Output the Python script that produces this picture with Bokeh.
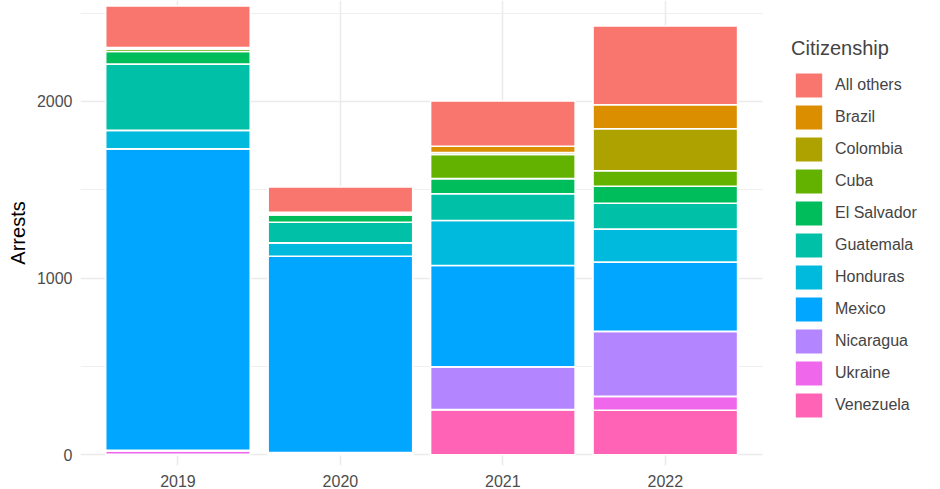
from bokeh.plotting import figure
from bokeh.models import (
    ColumnDataSource, Range1d, FixedTicker, Legend, LegendItem, BoxAnnotation,
)
from bokeh.embed import file_html
from bokeh.resources import INLINE

FONT = "Liberation Sans"

# Data (arrests by citizenship and year)
years = [2019, 2020, 2021, 2022]
countries = ["All others", "Brazil", "Colombia", "Cuba", "El Salvador",
             "Guatemala", "Honduras", "Mexico", "Nicaragua", "Ukraine",
             "Venezuela"]
all_others = [235, 143, 256, 446]
brazil = [5, 4, 35, 136]
colombia = [4, 4, 11, 238]
cuba = [14, 7, 137, 87]
el_salvador = [71, 41, 86, 97]
guatemala = [375, 117, 151, 146]
honduras = [105, 76, 255, 187]
mexico = [1706, 1110, 574, 392]
nicaragua = [3, 4, 242, 368]
ukraine = [20, 6, 0, 78]
venezuela = [2, 3, 255, 252]

# ggplot default hue palette, 11 levels
colors = ["#F8766D", "#DB8E00", "#AEA200", "#64B200", "#00BD5C", "#00C1A7",
          "#00BADE", "#00A6FF", "#B385FF", "#EF67EB", "#FF63B6"]

values = [all_others, brazil, colombia, cuba, el_salvador, guatemala,
          honduras, mexico, nicaragua, ukraine, venezuela]
data = {"year": years}
for name, vals in zip(countries, values):
    data[name] = vals
source = ColumnDataSource(data=data)

# frame spans the whole width; the legend sits in its right part
p = figure(
    x_range=Range1d(2018.4, 2023.694),
    y_range=Range1d(-61, 2571),
    width=940, height=489,
    min_border_left=80, min_border_right=0,
    min_border_top=0, min_border_bottom=24,
    output_backend="svg", toolbar_location=None,
)
p.outline_line_color = None

# stack bottom-up: last level at the bottom, like ggplot
stack_names = list(reversed(countries))
stack_colors = list(reversed(colors))
renderers = p.vbar_stack(
    stack_names, x="year", width=0.89, source=source,
    fill_color=stack_colors, line_color="white", line_width=1.6,
)

# hide the grid behind the legend area (panel ends at 2022.6)
p.add_layout(BoxAnnotation(left=2022.6, fill_color="white", fill_alpha=1,
                           line_color=None, level="underlay"))

# axes
yticker = FixedTicker(ticks=[0, 1000, 2000], minor_ticks=[500, 1500, 2500])
p.yaxis.ticker = yticker
p.ygrid.ticker = yticker
xticker = FixedTicker(ticks=years, minor_ticks=[])
p.xaxis.ticker = xticker
p.xgrid.ticker = xticker

p.yaxis.axis_label = "Arrests"
p.yaxis.axis_label_text_font = FONT
p.yaxis.axis_label_text_font_size = "20px"
p.yaxis.axis_label_text_font_style = "normal"
p.yaxis.axis_label_text_color = "black"
p.yaxis.axis_label_standoff = 5
p.yaxis.major_label_standoff = 2

for ax in (p.xaxis, p.yaxis):
    ax.axis_line_color = None
    ax.major_tick_line_color = None
    ax.minor_tick_line_color = None
    ax.major_label_text_font = FONT
    ax.major_label_text_font_size = "16px"
    ax.major_label_text_color = "#4D4D4D"
p.xaxis.major_label_standoff = 3

p.ygrid.grid_line_color = "#EBEBEB"
p.ygrid.grid_line_width = 1.5
p.ygrid.minor_grid_line_color = "#EBEBEB"
p.ygrid.minor_grid_line_width = 0.8
p.xgrid.grid_line_color = "#EBEBEB"
p.xgrid.grid_line_width = 1.5

# legend, top to bottom as in the reference
items = [LegendItem(label=name, renderers=[r])
         for name, r in reversed(list(zip(stack_names, renderers)))]
legend = Legend(
    items=items, location=(711, 44), title="Citizenship",
    title_text_font=FONT, title_text_font_size="20px",
    title_text_font_style="normal", title_standoff=9,
    label_text_font=FONT, label_text_font_size="16px",
    label_standoff=9, glyph_width=35, glyph_height=32, spacing=0,
    padding=0, margin=0, border_line_color=None, background_fill_alpha=0,
)
p.add_layout(legend)

open("out.html", "w").write(file_html(p, INLINE))
